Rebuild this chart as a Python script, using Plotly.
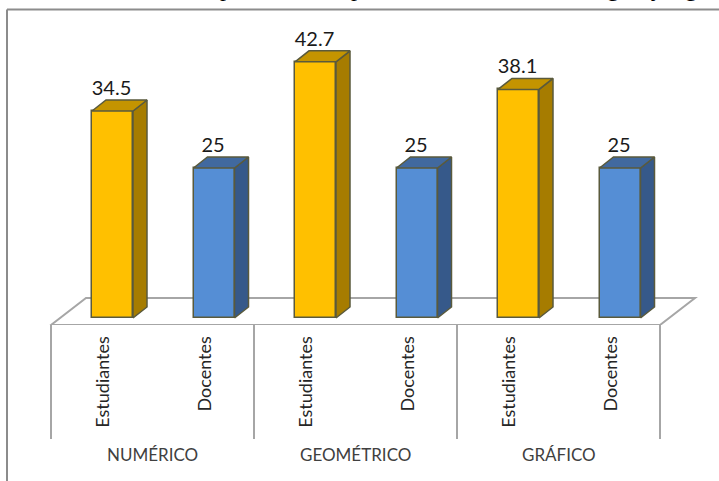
import plotly.graph_objects as go

groups = ["NUMÉRICO", "GEOMÉTRICO", "GRÁFICO"]
categories = ["Estudiantes", "Docentes"] * 3
values = [34.5, 25, 42.7, 25, 38.1, 25]
labels = ["34.5", "25", "42.7", "25", "38.1", "25"]
front = ["#FFC000", "#558ED5"] * 3
side = ["#A67C00", "#36598A"] * 3
top = ["#C49400", "#41699F"] * 3
clipped_title = [("p", 226), ("p", 357), ("g", 613), ("j", 655), ("g", 691)]

W, H = 719, 481
AX_L, AX_R, AX_Y, ZERO_Y = 51.0, 660.0, 325.0, 318.0
CAT = (AX_R - AX_L) / 6
FIRST_BAR = 112.5
PX = 6.0
DX, DY = 14 / CAT, 11 / PX
BW = 41 / CAT
xs = list(range(6))
EDGE = "#5A5A3C"
GRID = "#A6A6A6"


def xp(px):
    return (px - FIRST_BAR) / CAT


def yp(py):
    return (ZERO_Y - py) / PX


fig = go.Figure()

# front faces
fig.add_trace(go.Bar(
    x=xs, y=values, width=BW, marker=dict(color=front, line=dict(color=EDGE, width=1.5)),
    showlegend=False))

# side and top faces
for x, v, s, t in zip(xs, values, side, top):
    r = x + BW / 2
    l = x - BW / 2
    fig.add_trace(go.Scatter(
        x=[r, r + DX, r + DX, r, r], y=[0, DY, v + DY, v, 0], mode="lines",
        line=dict(color=EDGE, width=1.5), fill="toself", fillcolor=s,
        hoverinfo="skip", showlegend=False))
    fig.add_trace(go.Scatter(
        x=[l, l + DX, r + DX, r, l], y=[v, v + DY, v + DY, v, v], mode="lines",
        line=dict(color=EDGE, width=1.5), fill="toself", fillcolor=t,
        hoverinfo="skip", showlegend=False))

# value labels
fig.add_trace(go.Scatter(
    x=[x - 1 / CAT for x in xs], y=[v + DY for v in values], text=labels,
    mode="text", textposition="top center",
    textfont=dict(family="Lato", size=20, color="#1a1a1a"),
    hoverinfo="skip", showlegend=False))

# floor of the 3-D box, beneath the bars
shapes = [dict(
    type="path", layer="below", xref="x", yref="y",
    path=f"M {xp(51)} {yp(325)} L {xp(86)} {yp(298)} L {xp(695)} {yp(298)} L {xp(660)} {yp(325)} Z",
    fillcolor="white", line=dict(color=GRID, width=2))]
# group dividers under the axis
for px in [51, 254, 457, 660]:
    shapes.append(dict(type="line", xref="x", yref="paper",
                       x0=xp(px), x1=xp(px), y0=-(439 - AX_Y) / AX_Y,
                       y1=0, line=dict(color=GRID, width=2)))
# outer frame, cut by the page
shapes.append(dict(type="line", xref="paper", yref="paper", x0=7 / W, x1=1,
                   y0=1 - 9.5 / AX_Y, y1=1 - 9.5 / AX_Y, line=dict(color="#8C8C8C", width=2)))
shapes.append(dict(type="line", xref="paper", yref="paper", x0=7 / W, x1=7 / W,
                   y0=1 - 9.5 / AX_Y, y1=-(H - AX_Y) / AX_Y, line=dict(color="#8C8C8C", width=2)))

annotations = [
    dict(text=g, x=xp(AX_L + CAT * (2 * i + 1)), xref="x", y=1 - 454 / AX_Y, yref="paper",
         showarrow=False, yanchor="middle",
         font=dict(family="Lato", size=17, color="#404040"))
    for i, g in enumerate(groups)
]
annotations += [
    dict(text=c, x=px / W, xref="paper", xanchor="center", y=1 - 3 / AX_Y, yref="paper",
         showarrow=False, yanchor="bottom",
         font=dict(family="Liberation Serif", size=24, color="black"))
    for c, px in clipped_title
]

fig.update_layout(
    width=W, height=H, margin=dict(l=0, r=0, t=0, b=H - AX_Y, pad=0),
    paper_bgcolor="white", plot_bgcolor="white", bargap=0, showlegend=False,
    shapes=shapes, annotations=annotations,
    xaxis=dict(range=[xp(0), xp(W)], tickmode="array",
               tickvals=[x - 9 / CAT for x in xs], ticktext=categories,
               tickangle=-90, ticks="outside", ticklen=3, tickcolor="white", tickwidth=0.1,
               tickfont=dict(family="Lato", size=18, color="#262626"),
               showgrid=False, zeroline=False, showline=False, fixedrange=True),
    yaxis=dict(range=[yp(AX_Y), yp(0)], visible=False, fixedrange=True),
)

fig.write_html("out.html", config=dict(displayModeBar=False),
               post_script="document.body.style.margin='0';document.documentElement.style.overflow='hidden';")
